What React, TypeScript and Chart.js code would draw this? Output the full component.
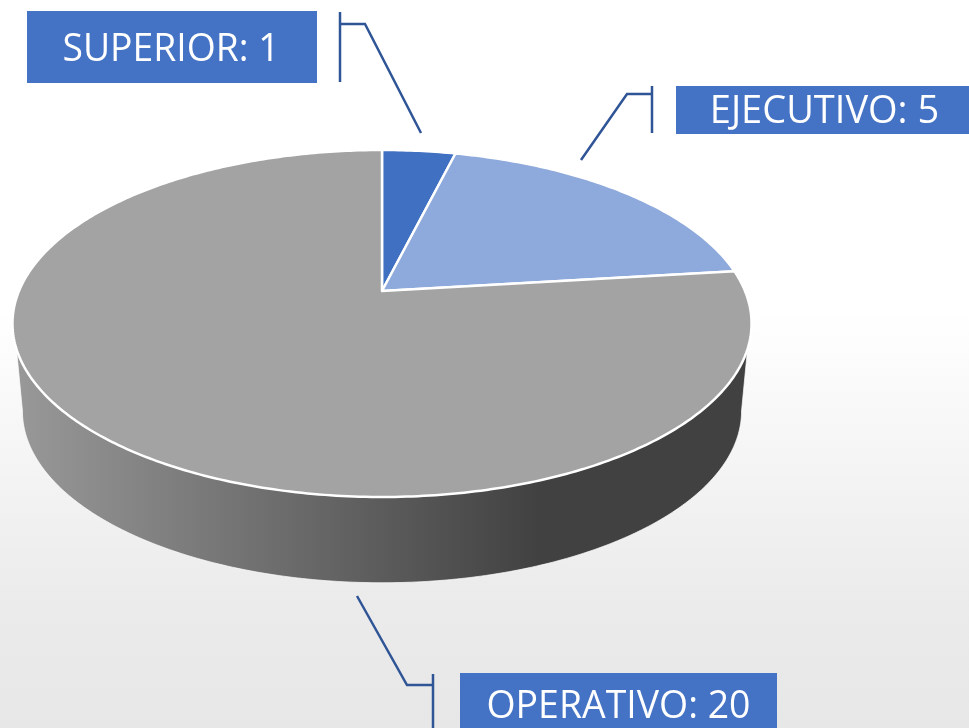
import React, { useEffect, useRef } from "react";
import { Chart, registerables } from "chart.js";

Chart.register(...registerables);

const categories = ["SUPERIOR", "EJECUTIVO", "OPERATIVO"];
const values = [1, 5, 20];
const sliceColors = ["#4070C2", "#8EA9DB", "#A3A3A3"];

const BLUE = "#4472C4";
const LEADER = "#2F5597";
const FONT_FAMILY = '"Open Sans", "Noto Sans", sans-serif';

// Perspective of the tilted disc
const APEX_X = 382;
const APEX_Y = 291;
const SCALE_X = 363;
const SCALE_Y = 167.4;
const TILT = 0.1873;
const ELLIPSE_MID_Y = 323.5;

const project = (theta: number) => {
  const s = Math.sin(theta);
  const c = Math.cos(theta);
  const d = 1 + TILT * c;
  return { x: APEX_X + (SCALE_X * s) / d, y: APEX_Y - (SCALE_Y * c) / d };
};

const projectLower = (theta: number) => {
  const p = project(theta);
  return { x: APEX_X + (p.x - APEX_X) * 0.973, y: 411 + (p.y - ELLIPSE_MID_Y) * 0.99 };
};

const labelBoxes = [
  { x: 27, y: 11, w: 290, h: 72, tx: 171, base: 61, mw: 217 },
  { x: 676, y: 86, w: 293, h: 48, tx: 824.5, base: 123, mw: 230 },
  { x: 460, y: 673, w: 317, h: 55, tx: 618.5, base: 718, mw: 264 },
];

const leaders = [
  { bar: [340, 12, 340, 82], path: [[340, 24], [365, 24], [421, 133]] },
  { bar: [652, 86, 652, 133], path: [[652, 94], [627, 94], [581, 160]] },
  { bar: [433, 674, 433, 728], path: [[433, 685], [407, 685], [357, 596]] },
];

const piePerspective = {
  id: "piePerspective",
  beforeDraw(chart: any) {
    const { ctx, width, height } = chart;
    const g = ctx.createLinearGradient(0, 0, 0, height);
    g.addColorStop(0, "#ffffff");
    g.addColorStop(310 / 728, "#ffffff");
    g.addColorStop(600 / 728, "#ebebeb");
    g.addColorStop(1, "#e7e7e7");
    ctx.save();
    ctx.fillStyle = g;
    ctx.fillRect(0, 0, width, height);
    ctx.restore();
  },
  beforeDatasetDraw(chart: any, args: any) {
    const { ctx } = chart;
    const meta = chart.getDatasetMeta(args.index);
    ctx.save();

    // Side wall
    const STEPS = 240;
    const a0 = (108.99 * Math.PI) / 180;
    const a1 = (251.01 * Math.PI) / 180;
    const b0 = (259.2 * Math.PI) / 180;
    const b1 = (100.8 * Math.PI) / 180;
    ctx.beginPath();
    for (let i = 0; i <= STEPS; i++) {
      const p = project(a0 + ((a1 - a0) * i) / STEPS);
      if (i === 0) ctx.moveTo(p.x, p.y);
      else ctx.lineTo(p.x, p.y);
    }
    for (let i = 0; i <= STEPS; i++) {
      const p = projectLower(b0 + ((b1 - b0) * i) / STEPS);
      ctx.lineTo(p.x, p.y);
    }
    ctx.closePath();
    const wall = ctx.createLinearGradient(14, 0, 540, 0);
    wall.addColorStop(0, "#999999");
    wall.addColorStop(1, "#414141");
    ctx.fillStyle = wall;
    ctx.fill();
    ctx.strokeStyle = "rgba(255,255,255,0.7)";
    ctx.lineWidth = 1;
    ctx.stroke();

    // Top faces, angles come from the library's arc elements
    meta.data.forEach((arc: any, i: number) => {
      const start = arc.startAngle + Math.PI / 2;
      const end = arc.endAngle + Math.PI / 2;
      const n = Math.max(8, Math.round(((end - start) / (2 * Math.PI)) * 480));
      ctx.beginPath();
      ctx.moveTo(APEX_X, APEX_Y);
      for (let k = 0; k <= n; k++) {
        const p = project(start + ((end - start) * k) / n);
        ctx.lineTo(p.x, p.y);
      }
      ctx.closePath();
      ctx.fillStyle = sliceColors[i];
      ctx.fill();
      ctx.strokeStyle = "#ffffff";
      ctx.lineWidth = 2.5;
      ctx.lineJoin = "round";
      ctx.stroke();
    });
    ctx.restore();
    return false;
  },
  afterDatasetsDraw(chart: any) {
    const { ctx } = chart;
    const data = chart.data.datasets[0].data;
    ctx.save();
    ctx.strokeStyle = LEADER;
    ctx.lineWidth = 2.5;
    ctx.lineJoin = "miter";
    leaders.forEach((l) => {
      ctx.beginPath();
      ctx.moveTo(l.bar[0], l.bar[1]);
      ctx.lineTo(l.bar[2], l.bar[3]);
      l.path.forEach((pt, i) => (i === 0 ? ctx.moveTo(pt[0], pt[1]) : ctx.lineTo(pt[0], pt[1])));
      ctx.stroke();
    });
    chart.data.labels.forEach((name: string, i: number) => {
      const b = labelBoxes[i];
      ctx.fillStyle = BLUE;
      ctx.fillRect(b.x, b.y, b.w, b.h);
      ctx.fillStyle = "#ffffff";
      ctx.font = `38px ${FONT_FAMILY}`;
      ctx.textAlign = "center";
      ctx.textBaseline = "alphabetic";
      ctx.fillText(`${name}: ${data[i]}`, b.tx, b.base, b.mw);
    });
    ctx.restore();
  },
};

export default function App() {
  const ref = useRef<HTMLCanvasElement>(null);
  useEffect(() => {
    const chart = new Chart(ref.current as HTMLCanvasElement, {
      type: "pie",
      data: {
        labels: categories,
        datasets: [{ data: values, backgroundColor: sliceColors }],
      },
      options: {
        responsive: false,
        animation: false,
        plugins: { legend: { display: false }, tooltip: { enabled: false } },
      },
      plugins: [piePerspective],
    } as any);
    return () => chart.destroy();
  }, []);
  return (
    <div style={{ position: "fixed", left: 0, top: 0, width: 969, height: 728, overflow: "hidden" }}>
      <canvas ref={ref} width={969} height={728} style={{ display: "block" }} />
    </div>
  );
}
